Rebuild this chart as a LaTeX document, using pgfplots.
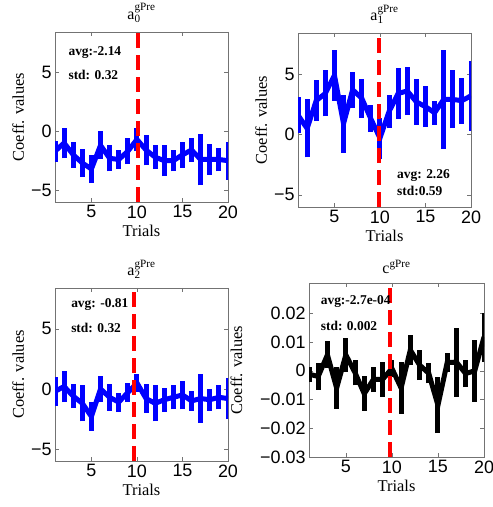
\documentclass[border=0pt]{standalone}
\usepackage{fontspec}
\setmainfont{Liberation Serif}
\setsansfont{Liberation Sans}
\usepackage{pgfplots}
\usepackage{pgfplotstable}
\pgfplotsset{compat=1.18}

% trial, coefficient, error
\pgfplotstableread{
x y e
1 -1.7 0.9
2 -1.0 1.3
3 -2.0 1.1
4 -2.7 1.2
5 -3.2 1.2
6 -1.2 1.2
7 -2.3 1.1
8 -2.4 0.8
9 -1.7 1.1
10 -0.7 1.0
11 -1.6 1.3
12 -2.2 1.0
13 -2.5 1.3
14 -2.5 0.9
15 -2.0 1.1
16 -1.6 1.0
17 -2.4 2.2
18 -2.4 1.3
19 -2.4 1.0
20 -2.5 1.6
}\tabA

\pgfplotstableread{
x y e
1 1.6 1.5
2 0.5 2.4
3 2.8 1.7
4 3.4 1.9
5 4.9 2.1
6 0.9 2.4
7 3.7 1.5
8 3.0 1.6
9 1.3 1.1
10 -0.3 1.7
11 1.9 1.4
12 3.4 2.1
13 3.6 2.0
14 2.7 1.9
15 2.3 1.7
16 1.8 1.0
17 2.9 4.1
18 2.9 2.4
19 2.8 1.9
20 3.2 2.9
}\tabB

\pgfplotstableread{
x y e
1 -0.2 1.2
2 0.2 1.3
3 -0.6 1.0
4 -1.2 1.5
5 -2.3 1.2
6 0.0 1.1
7 -0.7 1.1
8 -1.1 0.8
9 -0.3 0.8
10 0.5 0.75
11 -0.8 1.2
12 -1.2 1.5
13 -0.9 1.0
14 -0.7 1.0
15 -0.5 1.2
16 -1.0 0.8
17 -0.8 2.0
18 -0.9 0.9
19 -0.7 1.0
20 -0.8 1.7
}\tabC

\pgfplotstableread{
x y e
1 -0.0012 0.0026
2 -0.0020 0.0047
3 0.0055 0.0047
4 -0.0060 0.0073
5 0.0055 0.0060
6 -0.0007 0.0044
7 -0.0080 0.0060
8 -0.0030 0.0044
9 -0.0030 0.0060
10 0.0008 0.0030
11 -0.0060 0.0090
12 0.0072 0.0053
13 0.0020 0.0053
14 -0.0009 0.0035
15 -0.0120 0.0097
16 0.0028 0.0032
17 0.0030 0.0120
18 -0.0010 0.0047
19 0.0000 0.0108
20 0.0117 0.0085
}\tabD

\pgfplotsset{
  coeffpanel/.style={
    scale only axis, anchor=south west,
    width=173bp, height=172bp,
    xmin=1, xmax=20, xtick={5,10,15,20},
    tick align=inside, xtick pos=both, ytick pos=both,
    major tick length=4bp,
    axis line style={black!55},
    every tick/.style={black!55},
    ticklabel style={font=\sffamily\fontsize{18}{18}\selectfont},
    /pgf/number format/assume math mode=true,
    scaled y ticks=false,
    label style={font=\fontsize{16.5}{16.5}\selectfont},
    title style={font=\fontsize{16}{16}\selectfont},
    xlabel={Trials}, ylabel={Coeff. values},
  },
  coeffline/.style={#1, line width=5bp, no marks},
  % vertical error bars: segment from y-e of length 2e
  coeffbars/.style={#1, line width=5bp, no marks,
    quiver={u=0, v=2*\thisrow{e}}},
  trialline/.style={red, line width=4bp, dash pattern=on 15bp off 7bp},
}
\tikzset{note/.style={anchor=west, font=\bfseries\fontsize{13.5}{13.5}\selectfont}}

\begin{document}
\begin{tikzpicture}
\useasboundingbox (0,0) rectangle (493bp,507bp);

\begin{axis}[coeffpanel, at={(55bp,305bp)}, height=170bp,
  ymin=-6, ymax=8.4, ytick={-5,0,5}, yticklabels={−5,0,5},
  title={$\mathrm{a}_{\mathrm{0}}^{\mathrm{gPre}}$}]
\addplot[coeffline=blue] table[x=x, y=y] {\tabA};
\addplot[coeffbars=blue] table[x=x, y expr=\thisrow{y}-\thisrow{e}] {\tabA};
\addplot[trialline] coordinates {(10.1,-6) (10.1,8.4)};
\node[note] at (axis cs:2.1,6.7) {avg:-2.14};
\node[note] at (axis cs:2.1,4.8) {std: 0.32};
\end{axis}

\begin{axis}[coeffpanel, at={(298bp,300bp)}, height=174bp,
  ymin=-6, ymax=8.4, ytick={-5,0,5}, yticklabels={−5,0,5},
  title={$\mathrm{a}_{\mathrm{1}}^{\mathrm{gPre}}$}]
\addplot[coeffline=blue] table[x=x, y=y] {\tabB};
\addplot[coeffbars=blue] table[x=x, y expr=\thisrow{y}-\thisrow{e}] {\tabB};
\addplot[trialline] coordinates {(9.85,-6) (9.85,8.4)};
\node[note] at (axis cs:11.5,-3.4) {avg: 2.26};
\node[note] at (axis cs:11.5,-4.7) {std:0.59};
\end{axis}

\begin{axis}[coeffpanel, at={(55bp,46bp)}, height=173bp,
  ymin=-6, ymax=8.4, ytick={-5,0,5}, yticklabels={−5,0,5},
  title={$\mathrm{a}_{\mathrm{2}}^{\mathrm{gPre}}$}]
\addplot[coeffline=blue] table[x=x, y=y] {\tabC};
\addplot[coeffbars=blue] table[x=x, y expr=\thisrow{y}-\thisrow{e}] {\tabC};
\addplot[trialline] coordinates {(9.7,-6) (9.7,8.4)};
\node[note] at (axis cs:2.4,7.0) {avg: -0.81};
\node[note] at (axis cs:2.4,5.1) {std: 0.32};
\end{axis}

\begin{axis}[coeffpanel, at={(309bp,50bp)}, width=175bp, height=174bp,
  ymin=-0.03, ymax=0.0305,
  ytick={-0.03,-0.02,-0.01,0,0.01,0.02},
  yticklabels={−0.03,−0.02,−0.01,0,0.01,0.02},
  ylabel shift=11bp,
  title={$\mathrm{c}^{\mathrm{gPre}}$}]
\addplot[coeffline=black] table[x=x, y=y] {\tabD};
\addplot[coeffbars=black] table[x=x, y expr=\thisrow{y}-\thisrow{e}] {\tabD};
\addplot[trialline] coordinates {(9.75,-0.03) (9.75,0.0305)};
\node[note] at (axis cs:1.9,0.0239) {avg:-2.7e-04};
\node[note] at (axis cs:1.9,0.0157) {std: 0.002};
\end{axis}
\end{tikzpicture}
\end{document}
